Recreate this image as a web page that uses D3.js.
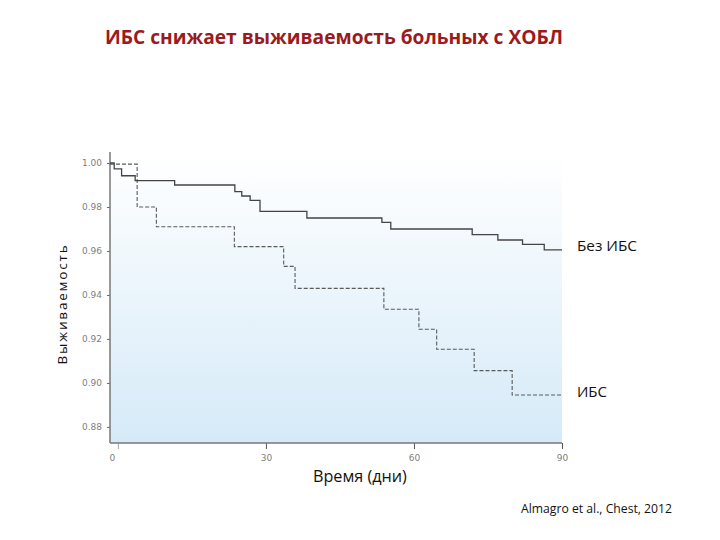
<!DOCTYPE html>
<html>
<head>
<meta charset="utf-8">
<script src="https://cdn.jsdelivr.net/npm/d3@7"></script>
<style>
  html, body { margin: 0; padding: 0; background: #ffffff; }
  svg { display: block; }
</style>
</head>
<body>
<svg id="chart" width="720" height="540"></svg>
<script>
// ---- data ----
const titleText = "ИБС снижает выживаемость больных с ХОБЛ";
const yLabelText = "Выживаемость";
const xLabelText = "Время (дни)";
const sourceText = "Almagro et al., Chest, 2012";
const seriesNames = ["Без ИБС", "ИБС"];

// Без ИБС (solid)
const noIhdDays = [-1.6, -0.75, 0.75, 3.5, 11.5, 23.7, 25.1, 26.8, 28.8, 38.3, 53.5, 55.3, 71.8, 77.0, 82.0, 86.4, 90];
const noIhdSurv = [1.000, 0.9973, 0.9942, 0.992, 0.990, 0.987, 0.985, 0.983, 0.978, 0.975, 0.973, 0.970, 0.9674, 0.965, 0.963, 0.9605, 0.9605];

// ИБС (dashed)
const ihdDays = [-1.6, 3.9, 7.8, 23.6, 33.6, 35.9, 53.9, 61.0, 64.6, 72.2, 79.9, 90];
const ihdSurv = [0.9995, 0.980, 0.971, 0.962, 0.953, 0.943, 0.9335, 0.9244, 0.9153, 0.9056, 0.8945, 0.8945];

const xTicks = [0, 30, 60, 90];
const yTicks = [0.88, 0.90, 0.92, 0.94, 0.96, 0.98, 1.00];

// ---- layout ----
const svg = d3.select("#chart");
const mLeft = 110, mRight = 562, mTop = 152, mBottom = 443;

const x = d3.scaleLinear().domain([-1.6, 90]).range([mLeft, mRight]);
const y = d3.scaleLinear().domain([0.8727, 1.005]).range([mBottom, mTop]);

function fitText(sel, w) {
  const len = sel.node().getComputedTextLength();
  const fs = parseFloat(sel.attr("font-size"));
  if (len > 0) sel.attr("font-size", (fs * w / len).toFixed(2));
}

// background gradient
const defs = svg.append("defs");
const grad = defs.append("linearGradient").attr("id", "bg")
  .attr("x1", 0).attr("y1", 0).attr("x2", 0).attr("y2", 1);
grad.append("stop").attr("offset", "0%").attr("stop-color", "#ffffff");
grad.append("stop").attr("offset", "100%").attr("stop-color", "#d5eaf8");

svg.append("rect")
  .attr("x", mLeft).attr("y", mTop)
  .attr("width", mRight - mLeft).attr("height", mBottom - mTop)
  .attr("fill", "url(#bg)");

// title
const title = svg.append("text")
  .attr("x", 105).attr("y", 44)
  .attr("font-family", "'Open Sans', 'Noto Sans', sans-serif")
  .attr("font-weight", "bold")
  .attr("font-size", 18)
  .attr("fill", "#9b1a1d")
  .text(titleText);
fitText(title, 458);

// y axis
const yAxis = d3.axisLeft(y).tickValues(yTicks).tickFormat(d3.format(".2f")).tickSize(3).tickPadding(5);
const gy = svg.append("g").attr("transform", `translate(${mLeft},0)`).call(yAxis);
gy.select(".domain").remove();
gy.selectAll(".tick line").attr("stroke", "#666");
gy.selectAll(".tick text")
  .attr("font-family", "'DejaVu Sans', sans-serif")
  .attr("font-size", 9)
  .attr("fill", "#808080");
svg.append("line")
  .attr("x1", mLeft).attr("x2", mLeft).attr("y1", mTop).attr("y2", mBottom)
  .attr("stroke", "#777").attr("stroke-width", 1.5);

// x axis
const xAxis = d3.axisBottom(x).tickValues(xTicks).tickFormat(d3.format("d")).tickSize(6).tickPadding(6);
const gx = svg.append("g").attr("transform", `translate(0,${mBottom})`).call(xAxis);
gx.select(".domain").remove();
gx.selectAll(".tick line").attr("stroke", "#555");
gx.selectAll(".tick text")
  .attr("font-family", "'DejaVu Sans', sans-serif")
  .attr("font-size", 9)
  .attr("fill", "#808080");
gx.selectAll(".tick").filter(d => d === 0).select("text").attr("dx", -6);
gx.selectAll(".tick").filter(d => d === 0).select("line").attr("stroke", "#aaa");
svg.append("line")
  .attr("x1", mLeft).attr("x2", mRight).attr("y1", mBottom).attr("y2", mBottom)
  .attr("stroke", "#777").attr("stroke-width", 1.5);

// curves
const line = d3.line()
  .x(d => x(d[0]))
  .y(d => y(d[1]))
  .curve(d3.curveStepAfter);

const noIhd = noIhdDays.map((d, i) => [d, noIhdSurv[i]]);
const ihd = ihdDays.map((d, i) => [d, ihdSurv[i]]);

svg.append("path").datum(ihd)
  .attr("d", line)
  .attr("fill", "none")
  .attr("stroke", "#5a5a5a")
  .attr("stroke-width", 1.1)
  .attr("stroke-dasharray", "4,2");

svg.append("path").datum(noIhd)
  .attr("d", line)
  .attr("fill", "none")
  .attr("stroke", "#444")
  .attr("stroke-width", 1.3);

// series labels
const lab1 = svg.append("text")
  .attr("x", 577).attr("y", 251)
  .attr("font-family", "'Open Sans', 'Noto Sans', sans-serif")
  .attr("font-size", 14).attr("fill", "#111")
  .text(seriesNames[0]);
fitText(lab1, 60);
const lab2 = svg.append("text")
  .attr("x", 577).attr("y", 397)
  .attr("font-family", "'Open Sans', 'Noto Sans', sans-serif")
  .attr("font-size", 14).attr("fill", "#111")
  .text(seriesNames[1]);
fitText(lab2, 30);

// axis labels
svg.append("text")
  .attr("transform", "translate(67,304) rotate(-90)")
  .attr("text-anchor", "middle")
  .attr("font-family", "'Open Sans', 'Noto Sans', sans-serif")
  .attr("font-size", 13.5)
  .attr("letter-spacing", 1.8)
  .attr("fill", "#111")
  .text(yLabelText);

const xl = svg.append("text")
  .attr("x", 313).attr("y", 482)
  .attr("font-family", "'Open Sans', 'Noto Sans', sans-serif")
  .attr("font-size", 14)
  .attr("fill", "#111")
  .text(xLabelText);
fitText(xl, 94);

// source
const src = svg.append("text")
  .attr("x", 521).attr("y", 513)
  .attr("font-family", "'Open Sans', 'Noto Sans', sans-serif")
  .attr("font-size", 12)
  .attr("fill", "#111")
  .text(sourceText);
fitText(src, 151);
</script>
</body>
</html>
